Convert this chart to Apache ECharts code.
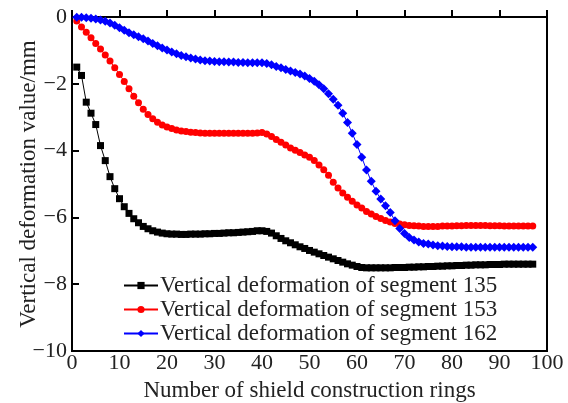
<!DOCTYPE html>
<html>
<head>
<meta charset="utf-8">
<script src="https://cdn.jsdelivr.net/npm/echarts@6/dist/echarts.min.js"></script>
<style>
html,body{margin:0;padding:0;background:#fff;}
#c{width:568px;height:403px;}
</style>
</head>
<body>
<div id="c"></div>
<script>
// Ring numbers (x)
const rings = [];
for (let i = 1; i <= 97; i++) rings.push(i);

const seg135 = [
-1.50,-1.75,-2.55,-2.88,-3.22,-3.85,-4.30,-4.78,-5.14,-5.44,
-5.68,-5.88,-6.04,-6.16,-6.27,-6.34,-6.40,-6.44,-6.47,-6.49,
-6.50,-6.50,-6.51,-6.51,-6.50,-6.50,-6.50,-6.49,-6.49,-6.48,
-6.48,-6.47,-6.46,-6.46,-6.45,-6.44,-6.43,-6.42,-6.40,-6.40,
-6.42,-6.47,-6.55,-6.63,-6.70,-6.76,-6.82,-6.88,-6.93,-6.99,
-7.04,-7.09,-7.14,-7.19,-7.24,-7.29,-7.34,-7.39,-7.43,-7.47,
-7.50,-7.51,-7.51,-7.51,-7.51,-7.51,-7.51,-7.50,-7.50,-7.50,
-7.49,-7.49,-7.48,-7.48,-7.47,-7.47,-7.46,-7.46,-7.45,-7.45,
-7.44,-7.44,-7.43,-7.43,-7.42,-7.42,-7.42,-7.41,-7.41,-7.41,
-7.40,-7.40,-7.40,-7.40,-7.40,-7.40,-7.40
];

const seg153 = [
-0.12,-0.30,-0.46,-0.62,-0.79,-0.96,-1.14,-1.32,-1.52,-1.72,
-1.93,-2.15,-2.37,-2.57,-2.76,-2.92,-3.05,-3.15,-3.23,-3.29,
-3.34,-3.38,-3.41,-3.43,-3.45,-3.46,-3.47,-3.48,-3.48,-3.48,
-3.48,-3.48,-3.48,-3.48,-3.48,-3.48,-3.48,-3.48,-3.47,-3.46,
-3.50,-3.58,-3.67,-3.75,-3.83,-3.92,-3.99,-4.06,-4.13,-4.20,
-4.30,-4.43,-4.57,-4.74,-4.95,-5.12,-5.27,-5.40,-5.52,-5.63,
-5.72,-5.82,-5.90,-5.97,-6.03,-6.09,-6.14,-6.18,-6.20,-6.22,
-6.24,-6.25,-6.26,-6.27,-6.27,-6.27,-6.27,-6.26,-6.26,-6.26,
-6.25,-6.25,-6.24,-6.24,-6.24,-6.24,-6.24,-6.25,-6.25,-6.25,
-6.26,-6.26,-6.26,-6.26,-6.26,-6.26,-6.26
];

const seg162 = [
-0.01,-0.01,-0.02,-0.04,-0.06,-0.09,-0.13,-0.18,-0.25,-0.32,
-0.40,-0.47,-0.53,-0.59,-0.65,-0.72,-0.79,-0.86,-0.93,-0.99,
-1.05,-1.10,-1.15,-1.19,-1.23,-1.26,-1.29,-1.31,-1.32,-1.33,
-1.34,-1.34,-1.35,-1.35,-1.36,-1.36,-1.37,-1.37,-1.37,-1.37,
-1.39,-1.43,-1.48,-1.52,-1.57,-1.62,-1.66,-1.71,-1.77,-1.84,
-1.92,-2.03,-2.15,-2.30,-2.46,-2.64,-2.88,-3.16,-3.48,-3.82,
-4.20,-4.58,-4.92,-5.22,-5.45,-5.65,-5.85,-6.10,-6.33,-6.48,
-6.60,-6.68,-6.74,-6.78,-6.80,-6.83,-6.85,-6.86,-6.87,-6.88,
-6.88,-6.88,-6.89,-6.89,-6.89,-6.89,-6.89,-6.89,-6.89,-6.89,
-6.89,-6.89,-6.89,-6.89,-6.89,-6.89,-6.89
];

const xTicks = [0,10,20,30,40,50,60,70,80,90,100];
const yTicks = [0,-2,-4,-6,-8,-10];

const names = [
  'Vertical deformation of segment 135',
  'Vertical deformation of segment 153',
  'Vertical deformation of segment 162'
];

function pairs(ys){ return ys.map((v,i)=>[rings[i], v]); }

const FONT = 'Liberation Serif';
const chart = echarts.init(document.getElementById('c'), null, {renderer:'canvas'});
chart.setOption({
  animation:false,
  backgroundColor:'#fff',
  grid:{left:72, top:17, width:475, height:334, outerBoundsMode:'none', containLabel:false,
        show:true, borderColor:'#000', borderWidth:2, backgroundColor:'transparent'},
  xAxis:{
    type:'value', min:xTicks[0], max:xTicks[xTicks.length-1], interval:10,
    name:'Number of shield construction rings', nameLocation:'middle', nameGap:28, nameMoveOverlap:false,
    nameTextStyle:{fontFamily:FONT, fontSize:23, color:'#222'},
    axisLine:{show:true, lineStyle:{color:'#000', width:2}},
    axisTick:{show:true, inside:true, length:7, lineStyle:{color:'#000', width:2}},
    axisLabel:{fontFamily:FONT, fontSize:22, color:'#222', margin:1},
    splitLine:{show:false}
  },
  yAxis:{
    type:'value', min:yTicks[yTicks.length-1], max:yTicks[0], interval:2,
    name:'Vertical deformation value/mm', nameLocation:'middle', nameGap:32, nameMoveOverlap:false,
    nameTextStyle:{fontFamily:FONT, fontSize:23, color:'#222'},
    axisLine:{show:true, lineStyle:{color:'#000', width:2}},
    axisTick:{show:true, inside:true, length:7, lineStyle:{color:'#000', width:2}},
    axisLabel:{fontFamily:FONT, fontSize:22, color:'#222', margin:5,
      formatter:v => v === 0 ? '0' : '\u2212' + Math.abs(v)},
    splitLine:{show:false}
  },
  legend:{
    orient:'vertical', left:118, top:269, itemGap:1, itemWidth:34, itemHeight:9,
    textStyle:{fontFamily:FONT, fontSize:23, color:'#222', padding:[0,0,0,-3]},
    data:names
  },
  series:[
    {name:names[0], type:'line', data:pairs(seg135), symbol:'rect', symbolSize:7, showAllSymbol:true,
     itemStyle:{color:'#000'}, lineStyle:{color:'#000', width:1}},
    {name:names[1], type:'line', data:pairs(seg153), symbol:'circle', symbolSize:7, showAllSymbol:true,
     itemStyle:{color:'#ff0000'}, lineStyle:{color:'#ff0000', width:1}},
    {name:names[2], type:'line', data:pairs(seg162), symbol:'diamond', symbolSize:9, showAllSymbol:true,
     itemStyle:{color:'#0000ff'}, lineStyle:{color:'#0000ff', width:1}}
  ]
});
</script>
</body>
</html>
